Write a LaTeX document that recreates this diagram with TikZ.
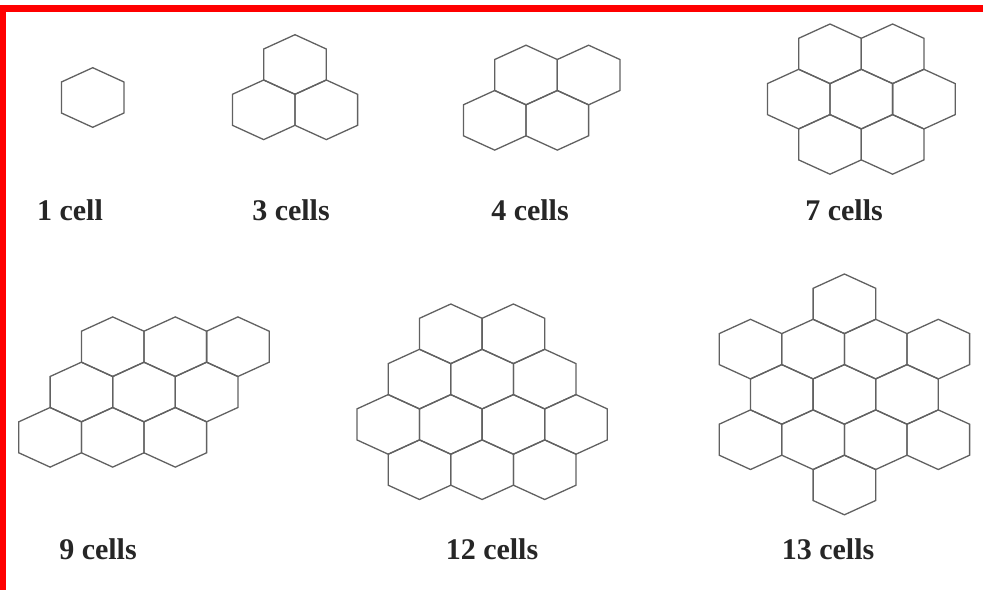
\documentclass[tikz,border=0pt]{standalone}
\usepackage{fontspec}
\setmainfont{Liberation Serif}
\begin{document}
\begin{tikzpicture}[x=1pt,y=-1pt,
  hexline/.style={draw=black!62,line width=1.3pt,line join=miter},
  lbl/.style={anchor=base,text=black!85,font=\fontsize{30}{32}\selectfont\bfseries,inner sep=0pt},
  hex/.pic={\path[hexline] (0,-29.8) -- (31.3,-15.5) -- (31.3,15.5) -- (0,29.8) -- (-31.3,15.5) -- (-31.3,-15.5) -- cycle;}]
\useasboundingbox (0,0) rectangle (983,590);
\fill[white] (0,0) rectangle (983,590);
% red frame
\fill[red] (0,5) rectangle (983,12);
\fill[red] (0,5) rectangle (6,590);
% 1 cell
\pic at (92.7,97.5) {hex};
% 3 cells
\foreach \x/\y in {295/64.5,263.7/109.8,326.3/109.8} \pic at (\x,\y) {hex};
% 4 cells
\foreach \x/\y in {526/75,588.6/75,494.7/120.3,557.3/120.3} \pic at (\x,\y) {hex};
% 7 cells
\foreach \x/\y in {830/53.8,892.6/53.8,798.7/99.1,861.3/99.1,923.9/99.1,830/144.4,892.6/144.4} \pic at (\x,\y) {hex};
% 9 cells
\foreach \x/\y in {112.7/346.7,175.3/346.7,237.9/346.7,81.4/392,144/392,206.6/392,50.1/437.3,112.7/437.3,175.3/437.3} \pic at (\x,\y) {hex};
% 12 cells
\foreach \x/\y in {450.8/333.8,513.4/333.8,419.5/379.1,482.1/379.1,544.7/379.1,388.2/424.4,450.8/424.4,513.4/424.4,576/424.4,419.5/469.7,482.1/469.7,544.7/469.7} \pic at (\x,\y) {hex};
% 13 cells
\foreach \x/\y in {844.4/303.8,750.5/349.1,813.1/349.1,875.7/349.1,938.3/349.1,781.8/394.4,844.4/394.4,907/394.4,750.5/439.7,813.1/439.7,875.7/439.7,938.3/439.7,844.4/485} \pic at (\x,\y) {hex};
% labels
\node[lbl] (l1) at (70,220) {1 cell};
\node[lbl] (l3) at (291,220) {3 cells};
\node[lbl] (l4) at (530,220) {4 cells};
\node[lbl] (l7) at (844,220) {7 cells};
\node[lbl] (l9) at (98,559) {9 cells};
\node[lbl] (l12) at (492,559) {12 cells};
\node[lbl] (l13) at (828,559) {13 cells};
\end{tikzpicture}
\end{document}
